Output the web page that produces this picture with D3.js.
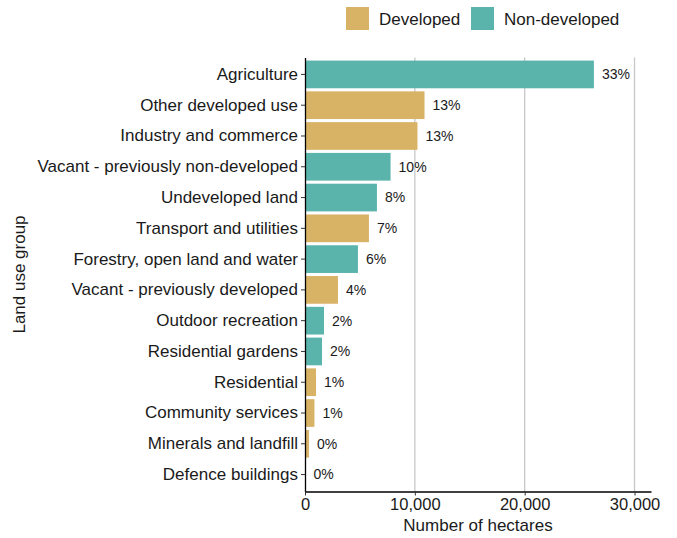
<!DOCTYPE html>
<html>
<head>
<meta charset="utf-8">
<script src="https://cdn.jsdelivr.net/npm/d3@7"></script>
<style>
  body { margin: 0; background: #fff; }
  text { font-family: "Liberation Sans", Arial, sans-serif; fill: #1a1a1a; }
</style>
</head>
<body>
<div id="plot"></div>
<script>
// chart data
const categories = ["Agriculture", "Other developed use", "Industry and commerce",
  "Vacant - previously non-developed", "Undeveloped land", "Transport and utilities",
  "Forestry, open land and water", "Vacant - previously developed", "Outdoor recreation",
  "Residential gardens", "Residential", "Community services", "Minerals and landfill",
  "Defence buildings"];
const hectares = [26300, 10880, 10240, 7790, 6550, 5820, 4820, 3000, 1730, 1550, 1000, 860, 360, 40];
const groups = ["Non-developed", "Developed", "Developed", "Non-developed", "Non-developed",
  "Developed", "Non-developed", "Developed", "Non-developed", "Non-developed",
  "Developed", "Developed", "Developed", "Developed"];
const percentLabels = ["33%", "13%", "13%", "10%", "8%", "7%", "6%", "4%", "2%", "2%", "1%", "1%", "0%", "0%"];
const xTicks = [0, 10000, 20000, 30000];
const legendKeys = ["Developed", "Non-developed"];

const width = 677, height = 538;
const margin = {top: 57.5, right: 26, bottom: 46.5, left: 305};

const color = d3.scaleOrdinal()
    .domain(legendKeys)
    .range(["#D8B365", "#5AB4AC"]);

const svg = d3.select("#plot").append("svg")
    .attr("width", width)
    .attr("height", height);

const x = d3.scaleLinear()
    .domain([0, 31500])
    .range([margin.left, width - margin.right]);

const y = d3.scaleBand()
    .domain(categories)
    .range([margin.top, height - margin.bottom])
    .padding(0.1);

// gridlines
svg.append("g")
    .selectAll("line")
    .data(xTicks.slice(1))
    .enter()
    .append("line")
    .attr("x1", d => x(d))
    .attr("x2", d => x(d))
    .attr("y1", margin.top)
    .attr("y2", height - margin.bottom)
    .style("stroke", "#c8c8c8")
    .style("stroke-width", 1.3);

const data = categories.map((c, i) => ({cat: c, val: hectares[i], grp: groups[i], pct: percentLabels[i]}));

// bars
svg.append("g")
    .selectAll("rect")
    .data(data)
    .enter()
    .append("rect")
    .attr("x", x(0))
    .attr("y", d => y(d.cat))
    .attr("width", d => x(d.val) - x(0))
    .attr("height", y.bandwidth())
    .style("fill", d => color(d.grp));

// value labels
svg.append("g")
    .selectAll("text")
    .data(data)
    .enter()
    .append("text")
    .attr("x", d => x(d.val) + 8)
    .attr("y", d => y(d.cat) + y.bandwidth() / 2)
    .attr("dy", "0.35em")
    .style("font-size", "14px")
    .text(d => d.pct);

// y axis
const yAxis = svg.append("g")
    .attr("transform", `translate(${margin.left},0)`)
    .call(d3.axisLeft(y).tickSize(4).tickSizeOuter(0).tickPadding(3));
yAxis.selectAll("text").style("font-size", "17px").style("fill", "#1a1a1a");
yAxis.selectAll("line").style("stroke", "#333");
yAxis.select(".domain").style("stroke", "#000").style("stroke-width", 1.3);

// x axis
const xAxis = svg.append("g")
    .attr("transform", `translate(0,${height - margin.bottom})`)
    .call(d3.axisBottom(x).tickValues(xTicks).tickFormat(d3.format(",")).tickSize(4).tickSizeOuter(0).tickPadding(3));
xAxis.selectAll("text").style("font-size", "16.5px").style("fill", "#1a1a1a");
xAxis.selectAll("line").style("stroke", "#333");
xAxis.select(".domain").style("stroke", "#000").style("stroke-width", 1.3);

// axis titles
svg.append("text")
    .attr("x", x(0) + (x(31500) - x(0)) / 2)
    .attr("y", 531)
    .attr("text-anchor", "middle")
    .style("font-size", "17px")
    .text("Number of hectares");

svg.append("text")
    .attr("transform", `translate(25,${(margin.top + height - margin.bottom) / 2}) rotate(-90)`)
    .attr("text-anchor", "middle")
    .style("font-size", "17px")
    .text("Land use group");

// legend
const legend = svg.append("g");
const legendX = [346, 471];
legendKeys.forEach((k, i) => {
    legend.append("rect")
        .attr("x", legendX[i])
        .attr("y", 7)
        .attr("width", 23)
        .attr("height", 23)
        .style("fill", color(k));
    legend.append("text")
        .attr("x", legendX[i] + 33)
        .attr("y", 19)
        .attr("dy", "0.35em")
        .style("font-size", "17px")
        .text(k);
});
</script>
</body>
</html>
